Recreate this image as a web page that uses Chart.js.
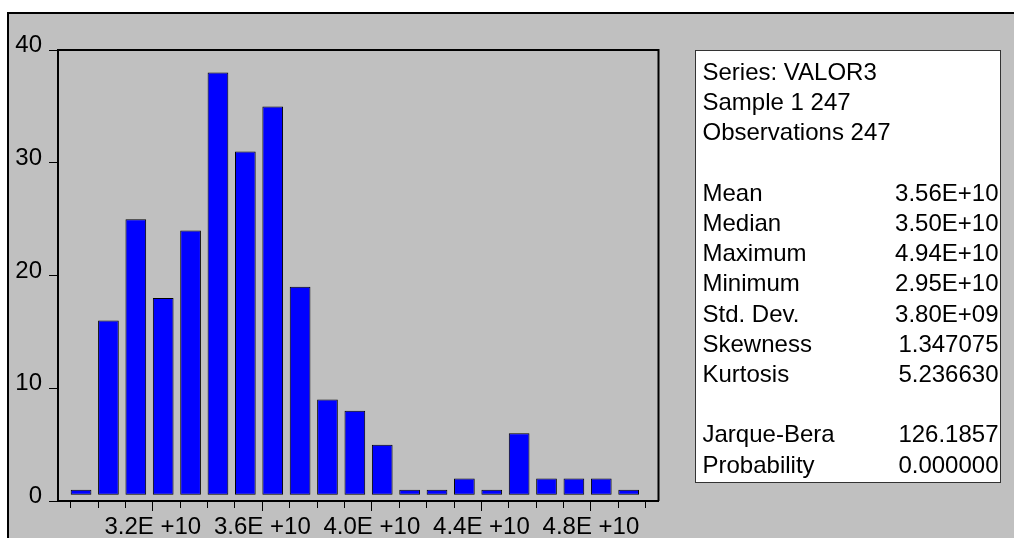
<!DOCTYPE html>
<html>
<head>
<meta charset="utf-8">
<script src="https://cdn.jsdelivr.net/npm/chart.js@4.4.1/dist/chart.umd.min.js"></script>
<style>
  html, body { margin: 0; padding: 0; background: #fff; }
  #histo { display: block; }
</style>
</head>
<body>
<canvas id="histo" width="1014" height="538"></canvas>
<script>
// histogram of VALOR3, bins of 1E+9
const binStarts = [2.9e10, 3.0e10, 3.1e10, 3.2e10, 3.3e10, 3.4e10, 3.5e10, 3.6e10, 3.7e10, 3.8e10, 3.9e10,
                   4.0e10, 4.1e10, 4.2e10, 4.3e10, 4.4e10, 4.5e10, 4.6e10, 4.7e10, 4.8e10, 4.9e10];
const counts = [1, 16, 25, 18, 24, 38, 31, 35, 19, 9, 8, 5, 1, 1, 2, 1, 6, 2, 2, 2, 1];
const binWidth = 1e9;

const xLabelValues = [3.2e10, 3.6e10, 4.0e10, 4.4e10, 4.8e10];
const xLabels = ['3.2E +10', '3.6E +10', '4.0E +10', '4.4E +10', '4.8E +10'];
const yTickValues = [0, 10, 20, 30, 40];

const headerLines = ['Series: VALOR3', 'Sample 1 247', 'Observations 247'];
const statNames = ['Mean', 'Median', 'Maximum', 'Minimum', 'Std. Dev.', 'Skewness', 'Kurtosis'];
const statValues = ['3.56E+10', '3.50E+10', '4.94E+10', '2.95E+10', '3.80E+09', '1.347075', '5.236630'];
const testNames = ['Jarque-Bera', 'Probability'];
const testValues = ['126.1857', '0.000000'];

const FONT = '"Liberation Sans", Arial, sans-serif';
const barShare = 0.756; // eviews draws bars from the bin start, not centred

const binEdges = binStarts.concat(binStarts[binStarts.length - 1] + binWidth);
const isMajor = v => xLabelValues.some(m => Math.abs(m - v) < 1000);

const points = binStarts.map((s, i) => ({ x: s + binWidth * barShare / 2, y: counts[i] }));

const framePlugin = {
  id: 'frame',
  beforeDraw(chart) {
    const { ctx, width, height } = chart;
    ctx.save();
    ctx.fillStyle = '#ffffff';
    ctx.fillRect(0, 0, width, height);
    ctx.fillStyle = '#000000';
    ctx.fillRect(7, 12, width - 7, height - 12);
    ctx.fillStyle = '#c0c0c0';
    ctx.fillRect(9, 14, width - 9, height - 14);
    ctx.restore();
  },
  afterDraw(chart) {
    const { ctx, chartArea: a } = chart;
    ctx.save();
    // top and right edge of the plot box
    ctx.strokeStyle = '#000';
    ctx.lineWidth = 2;
    ctx.beginPath();
    ctx.moveTo(a.left, a.top);
    ctx.lineTo(a.right, a.top);
    ctx.lineTo(a.right, a.bottom);
    ctx.stroke();

    // stats panel
    const bx = 695.5, by = 50.5, bw = 305, bh = 432;
    ctx.fillStyle = '#fff';
    ctx.fillRect(bx, by, bw, bh);
    ctx.strokeStyle = '#333';
    ctx.lineWidth = 1;
    ctx.strokeRect(bx, by, bw, bh);

    ctx.font = '24px ' + FONT;
    ctx.fillStyle = '#000';
    ctx.textBaseline = 'alphabetic';
    const left = 702.5, right = 998.5, first = 80, step = 30.2;
    const rows = [];
    headerLines.forEach(t => rows.push([t, '']));
    rows.push(['', '']);
    statNames.forEach((n, i) => rows.push([n, statValues[i]]));
    rows.push(['', '']);
    testNames.forEach((n, i) => rows.push([n, testValues[i]]));
    rows.forEach((r, k) => {
      const y = first + step * k;
      ctx.textAlign = 'left';
      ctx.fillText(r[0], left, y);
      ctx.textAlign = 'right';
      ctx.fillText(r[1], right, y);
    });
    ctx.restore();
  }
};

new Chart(document.getElementById('histo'), {
  type: 'bar',
  data: {
    datasets: [{
      data: points,
      backgroundColor: '#0000ff',
      borderColor: '#000',
      borderWidth: 1,
      borderSkipped: false,
      base: 0.55,
      barPercentage: barShare,
      categoryPercentage: 1
    }]
  },
  options: {
    responsive: false,
    animation: false,
    events: [],
    layout: { padding: { left: 0, top: 50, right: 355.5, bottom: 0 } },
    plugins: { legend: { display: false }, tooltip: { enabled: false } },
    scales: {
      x: {
        type: 'linear',
        offset: false,
        min: 2.8536e10,
        max: 5.0468e10,
        afterBuildTicks: s => { s.ticks = binEdges.map(v => ({ value: v })); },
        afterFit: s => { s.height = 37; },
        border: { display: true, color: '#000', width: 2 },
        grid: {
          offset: false,
          drawOnChartArea: false,
          drawTicks: true,
          tickLength: 10,
          tickColor: '#000',
          tickWidth: 1,
          tickBorderDash: ctx => (ctx.tick && isMajor(ctx.tick.value)) ? [] : [6, 30]
        },
        ticks: {
          autoSkip: false,
          maxRotation: 0,
          minRotation: 0,
          padding: 2,
          color: '#000',
          font: { family: FONT, size: 24 },
          callback: v => {
            const i = xLabelValues.findIndex(m => Math.abs(m - v) < 1000);
            return i >= 0 ? xLabels[i] : '';
          }
        }
      },
      y: {
        min: 0,
        max: 40,
        afterBuildTicks: s => { s.ticks = yTickValues.map(v => ({ value: v })); },
        afterFit: s => { s.width = 58; },
        border: { display: true, color: '#000', width: 2 },
        grid: { drawOnChartArea: false, tickLength: 9, tickColor: '#000', tickWidth: 1 },
        ticks: {
          padding: 7,
          labelOffset: -4.5,
          color: '#000',
          font: { family: FONT, size: 24 }
        }
      }
    }
  },
  plugins: [framePlugin]
});
</script>
</body>
</html>
